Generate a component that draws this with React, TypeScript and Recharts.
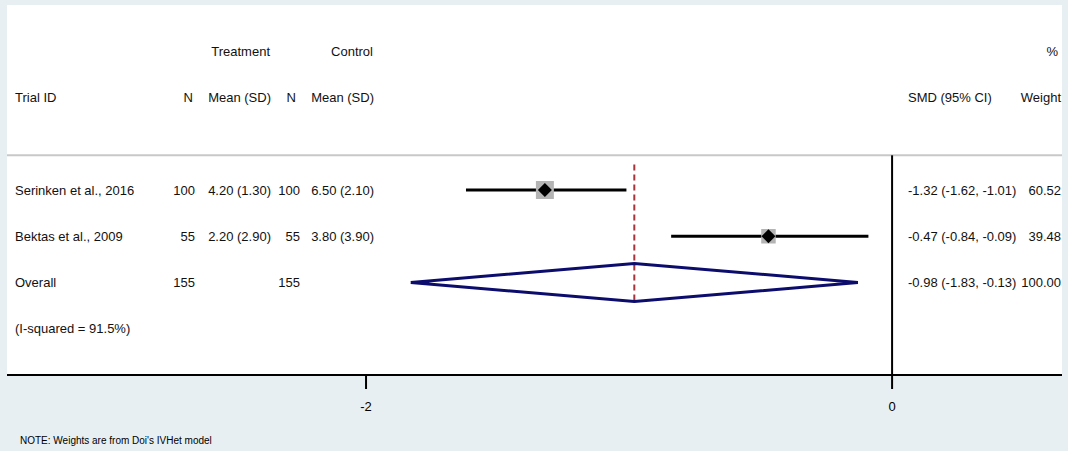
import React from 'react';
import {
  ComposedChart,
  XAxis,
  YAxis,
  Scatter,
  ReferenceLine,
  CartesianGrid,
} from 'recharts';

// ---- Data ----
const studies = ['Serinken et al., 2016', 'Bektas et al., 2009'];
const treatN = [100, 55];
const treatMean = [4.2, 2.2];
const treatSD = [1.3, 2.9];
const ctrlN = [100, 55];
const ctrlMean = [6.5, 3.8];
const ctrlSD = [2.1, 3.9];
const smd = [-1.32, -0.47];
const ciLow = [-1.62, -0.84];
const ciHigh = [-1.01, -0.09];
const weights = [60.52, 39.48];

const overallLabel = 'Overall';
const overallTreatN = 155;
const overallCtrlN = 155;
const overallSmd = -0.98;
const overallLow = -1.83;
const overallHigh = -0.13;
const overallWeight = 100.0;
const iSquared = 91.5;

const xTicks = [-2, 0];
const xDomain: [number, number] = [-3.365, 0.646];

// row positions on the vertical (reversed) axis
const headerTopRow = -3;
const headerRow = -2;
const separatorRow = -0.75;
const studyRows = [0, 1];
const overallRow = 2;
const noteRow = 3;

// ---- Styling ----
const W = 1068;
const H = 451;
const BG = '#E8EFF2';
const FONT = '"Liberation Sans", Arial, Helvetica, sans-serif';
const TEXT = '#111';
const NAVY = '#0c0c6c';
const DASH = '#a8333a';
const BOX = '#b4b4b4';
const DIAMOND_HALF = 0.41;
const FS = 13;

const fmt = (v: number) => v.toFixed(2);
const ci = (e: number, l: number, h: number) => `${fmt(e)} (${fmt(l)}, ${fmt(h)})`;

// column anchors (pixels)
const COL = {
  id: 15,
  tN: 195,
  tNHead: 193,
  tMean: 271,
  cN: 300,
  cNHead: 296,
  cMean: 374,
  smd: 908,
  wt: 1061,
  pct: 1058,
};

type Cell = { text: string; x: number; anchor: 'start' | 'end' };
type TextRow = { x: number; y: number; cells: Cell[] };

const textRows: TextRow[] = [
  {
    x: 0,
    y: headerTopRow,
    cells: [
      { text: 'Treatment', x: COL.tMean - 1, anchor: 'end' },
      { text: 'Control', x: COL.cMean - 1, anchor: 'end' },
      { text: '%', x: COL.pct, anchor: 'end' },
    ],
  },
  {
    x: 0,
    y: headerRow,
    cells: [
      { text: 'Trial ID', x: COL.id, anchor: 'start' },
      { text: 'N', x: COL.tNHead, anchor: 'end' },
      { text: 'Mean (SD)', x: COL.tMean, anchor: 'end' },
      { text: 'N', x: COL.cNHead, anchor: 'end' },
      { text: 'Mean (SD)', x: COL.cMean, anchor: 'end' },
      { text: 'SMD (95% CI)', x: COL.smd, anchor: 'start' },
      { text: 'Weight', x: COL.wt, anchor: 'end' },
    ],
  },
  ...studies.map((name, i) => ({
    x: 0,
    y: studyRows[i],
    cells: [
      { text: name, x: COL.id, anchor: 'start' as const },
      { text: String(treatN[i]), x: COL.tN, anchor: 'end' as const },
      { text: `${fmt(treatMean[i])} (${fmt(treatSD[i])})`, x: COL.tMean, anchor: 'end' as const },
      { text: String(ctrlN[i]), x: COL.cN, anchor: 'end' as const },
      { text: `${fmt(ctrlMean[i])} (${fmt(ctrlSD[i])})`, x: COL.cMean, anchor: 'end' as const },
      { text: ci(smd[i], ciLow[i], ciHigh[i]), x: COL.smd, anchor: 'start' as const },
      { text: fmt(weights[i]), x: COL.wt, anchor: 'end' as const },
    ],
  })),
  {
    x: 0,
    y: overallRow,
    cells: [
      { text: overallLabel, x: COL.id, anchor: 'start' },
      { text: String(overallTreatN), x: COL.tN, anchor: 'end' },
      { text: String(overallCtrlN), x: COL.cN, anchor: 'end' },
      { text: ci(overallSmd, overallLow, overallHigh), x: COL.smd, anchor: 'start' },
      { text: fmt(overallWeight), x: COL.wt, anchor: 'end' },
    ],
  },
  {
    x: 0,
    y: noteRow,
    cells: [{ text: `(I-squared = ${iSquared.toFixed(1)}%)`, x: COL.id, anchor: 'start' }],
  },
];

const studyPoints = studies.map((name, i) => ({ x: smd[i], y: studyRows[i], w: weights[i] }));

const diamondPoints = [
  { x: overallLow, y: overallRow },
  { x: overallSmd, y: overallRow - DIAMOND_HALF },
  { x: overallHigh, y: overallRow },
  { x: overallSmd, y: overallRow + DIAMOND_HALF },
  { x: overallLow, y: overallRow },
];

const TableRowShape = (props: any) => {
  const { cy, payload } = props;
  return (
    <g>
      {payload.cells.map((c: Cell, k: number) => (
        <text
          key={k}
          x={c.x}
          y={cy}
          dy="0.36em"
          textAnchor={c.anchor}
          fontFamily={FONT}
          fontSize={FS}
          fill={TEXT}
        >
          {c.text}
        </text>
      ))}
    </g>
  );
};

const StudyMarker = (props: any) => {
  const { cx, cy, payload } = props;
  const side = 2.31 * Math.sqrt(payload.w);
  const d = 7;
  return (
    <g>
      <rect x={cx - side / 2} y={cy - side / 2} width={side} height={side} fill={BOX} />
      <polygon
        points={`${cx - d},${cy} ${cx},${cy - d} ${cx + d},${cy} ${cx},${cy + d}`}
        fill="#000"
      />
    </g>
  );
};

const NoMarker = () => <g />;

export default function App() {
  return (
    <div
      style={{
        position: 'absolute',
        left: 0,
        top: 0,
        width: W,
        height: H,
        background: BG,
      }}
    >
      <ComposedChart
        width={W}
        height={H}
        margin={{ top: 5, right: 6, left: 7, bottom: 0 }}
      >
        <CartesianGrid fill="#ffffff" horizontal={false} vertical={false} stroke="none" />
        <XAxis
          type="number"
          dataKey="x"
          domain={xDomain}
          ticks={xTicks}
          allowDataOverflow
          height={76}
          axisLine={{ stroke: '#000', strokeWidth: 2 }}
          tickLine={{ stroke: '#000', strokeWidth: 2 }}
          tickSize={14}
          tickMargin={13}
          tick={{ fill: '#000', fontSize: FS, fontFamily: FONT }}
        />
        <YAxis type="number" dataKey="y" domain={[-4, 4]} reversed hide allowDataOverflow />

        <ReferenceLine y={separatorRow} stroke="#c8c8c8" strokeWidth={2} />
        <ReferenceLine
          segment={[
            { x: 0, y: separatorRow },
            { x: 0, y: 4 },
          ]}
          stroke="#000"
          strokeWidth={2}
        />
        <ReferenceLine
          segment={[
            { x: overallSmd, y: -0.55 },
            { x: overallSmd, y: 2.43 },
          ]}
          stroke={DASH}
          strokeWidth={2}
          strokeDasharray="6 4"
        />

        {studies.map((name, i) => (
          <ReferenceLine
            key={name}
            segment={[
              { x: ciLow[i], y: studyRows[i] },
              { x: ciHigh[i], y: studyRows[i] },
            ]}
            stroke="#000"
            strokeWidth={3}
          />
        ))}

        <Scatter
          data={diamondPoints}
          dataKey="y"
          line={{ stroke: NAVY, strokeWidth: 3 }}
          shape={NoMarker}
          isAnimationActive={false}
        />
        <Scatter data={studyPoints} dataKey="y" shape={StudyMarker} isAnimationActive={false} />
        <Scatter data={textRows} dataKey="y" shape={TableRowShape} isAnimationActive={false} />
      </ComposedChart>
      <div
        style={{
          position: 'absolute',
          left: 20,
          top: 435,
          fontFamily: FONT,
          fontSize: 10,
          lineHeight: '12px',
          color: '#000',
          whiteSpace: 'nowrap',
        }}
      >
        NOTE: Weights are from Doi's IVHet model
      </div>
    </div>
  );
}
